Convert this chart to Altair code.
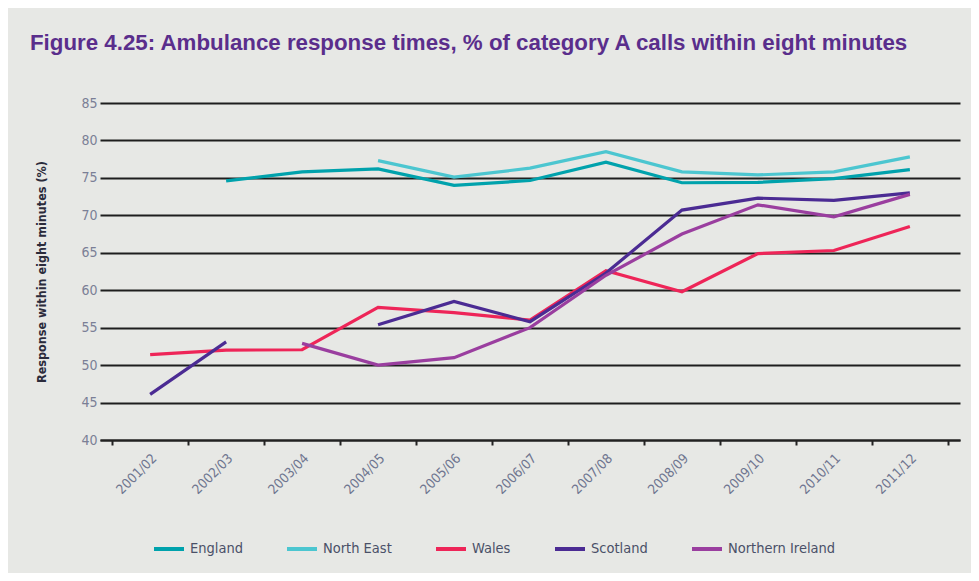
import altair as alt
import pandas as pd

years = ["2001/02", "2002/03", "2003/04", "2004/05", "2005/06", "2006/07",
         "2007/08", "2008/09", "2009/10", "2010/11", "2011/12"]
england = [None, 74.6, 75.8, 76.2, 74.0, 74.65, 77.1, 74.35, 74.4, 74.9, 76.1]
north_east = [None, None, None, 77.3, 75.1, 76.3, 78.5, 75.8, 75.4, 75.8, 77.8]
wales = [51.4, 52.0, 52.05, 57.7, 57.0, 56.0, 62.6, 59.8, 64.9, 65.3, 68.5]
scotland = [46.1, 53.1, None, 55.4, 58.5, 55.8, 62.3, 70.7, 72.3, 72.0, 73.0]
northern_ireland = [None, None, 52.9, 50.0, 51.0, 55.0, 62.0, 67.5, 71.4, 69.8, 72.8]

series = ["England", "North East", "Wales", "Scotland", "Northern Ireland"]
colors = ["#00a2ac", "#4cc6d0", "#ee2558", "#4b2b93", "#9a3e9f"]

rows = []
for name, vals in zip(series, [england, north_east, wales, scotland, northern_ireland]):
    for i, (yr, v) in enumerate(zip(years, vals)):
        rows.append({"year": yr, "value": v, "series": name, "order": i})
df = pd.DataFrame(rows)

FONT = "DejaVu Sans Condensed"

chart = alt.Chart(df).mark_line(strokeWidth=3.2).encode(
    x=alt.X("year:N", sort=years,
            scale=alt.Scale(paddingInner=0, paddingOuter=0.16),
            axis=alt.Axis(title=None, labelAngle=-45, labelAlign="right",
                          labelBaseline="middle", labelFontSize=13.5, labelFont=FONT,
                          labelColor="#6f7690", labelPadding=11, tickBand="extent",
                          domainColor="#222222", domainWidth=2, tickColor="#222222",
                          tickWidth=2, tickSize=5, grid=False, labelOffset=4)),
    y=alt.Y("value:Q", scale=alt.Scale(domain=[40, 85], nice=False, zero=False),
            axis=alt.Axis(title="Response within eight minutes (%)", values=list(range(40, 90, 5)),
                          titleFont=FONT, titleFontSize=12.5, titleFontWeight="bold",
                          titleColor="#2b2b3b", titlePadding=32,
                          labelFont=FONT, labelFontSize=14, labelColor="#7b7f96",
                          labelPadding=3, domain=False, ticks=False,
                          grid=True, gridColor="#1e1e1e", gridWidth=1.8)),
    color=alt.Color("series:N", sort=series,
                    scale=alt.Scale(domain=series, range=colors),
                    legend=alt.Legend(title=None, orient="none", direction="horizontal",
                                      legendX=52, legendY=429, symbolType="stroke",
                                      symbolSize=900, symbolStrokeWidth=4,
                                      labelFont=FONT, labelFontSize=14.5, labelColor="#4a5068",
                                      columnPadding=36, labelOffset=4)),
    order="order:Q",
).properties(
    width=860, height=337,
    title=alt.TitleParams("Figure 4.25: Ambulance response times, % of category A calls within eight minutes",
                          anchor="start", frame="group", font="Liberation Sans", fontSize=22.3,
                          fontWeight="bold", color="#5a2e8c", dx=-70, dy=-42, offset=0),
    background="#e7e8e5",
    padding={"left": 92, "top": 95, "right": 11, "bottom": 133},
    autosize=alt.AutoSizeParams(type="none"),
).configure_view(stroke=None)

chart.save("out.html", embed_options={"renderer": "svg", "actions": False})
